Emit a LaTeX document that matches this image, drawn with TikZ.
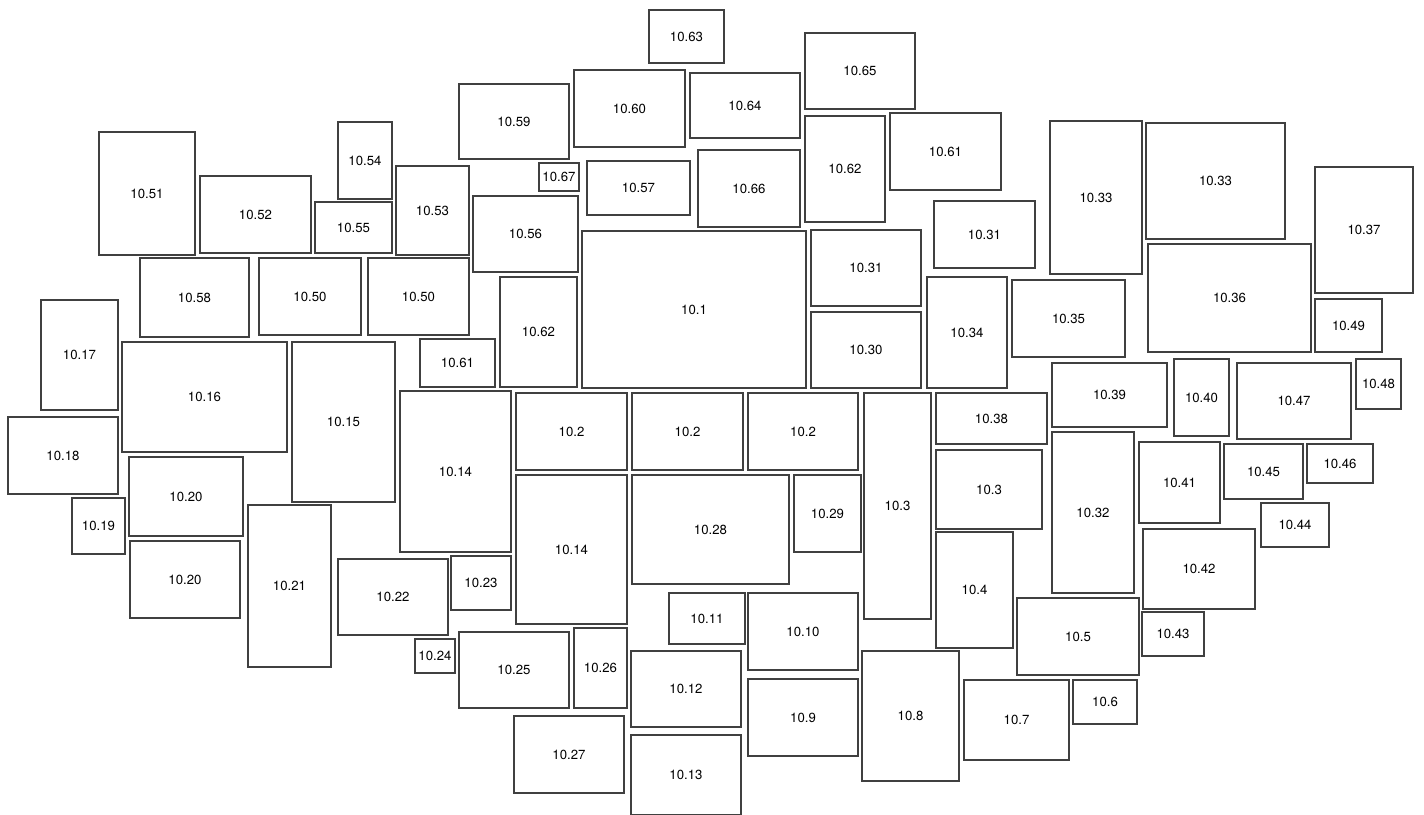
\documentclass[tikz,border=0pt]{standalone}
\usepackage{fontspec}
\setmainfont{TeX Gyre Heros}
\begin{document}
\begin{tikzpicture}[x=0.5pt,y=-0.5pt,
  bx/.style={draw=black!75,line width=0.6pt,inner sep=0pt,outer sep=0pt,
    font=\fontsize{6.6}{7}\selectfont,text=black}]
\useasboundingbox (0,0) rectangle (1424,814);
\newcommand\bx[6]{\node[bx,minimum width={(#4-#2)*0.5pt},minimum height={(#5-#3)*0.5pt}] (#1) at ({(#2+#4)/2},{(#3+#5)/2}) {#6};}
\bx{nA}{649}{10}{724}{63}{10.63}
\bx{nB}{805}{33}{915}{109}{10.65}
\bx{nC}{574}{70}{685}{147}{10.60}
\bx{nD}{690}{73}{800}{138}{10.64}
\bx{nE}{459}{84}{569}{159}{10.59}
\bx{nF}{805}{116}{885}{222}{10.62}
\bx{nG}{890}{113}{1001}{190}{10.61}
\bx{nH}{539}{163}{579}{191}{10.67}
\bx{nI}{587}{161}{690}{215}{10.57}
\bx{nJ}{698}{150}{800}{227}{10.66}
\bx{nK}{473}{196}{578}{272}{10.56}
\bx{nL}{99}{132}{195}{255}{10.51}
\bx{nM}{200}{176}{311}{253}{10.52}
\bx{nN}{338}{122}{392}{199}{10.54}
\bx{nO}{315}{202}{392}{253}{10.55}
\bx{nP}{396}{166}{469}{255}{10.53}
\bx{nQ}{140}{258}{249}{337}{10.58}
\bx{nR}{259}{258}{361}{335}{10.50}
\bx{nS}{368}{258}{469}{335}{10.50}
\bx{nT}{41}{300}{118}{410}{10.17}
\bx{nU}{122}{342}{287}{452}{10.16}
\bx{nV}{292}{342}{395}{502}{10.15}
\bx{nW}{420}{339}{495}{387}{10.61}
\bx{nX}{500}{277}{577}{387}{10.62}
\bx{nY}{582}{231}{806}{388}{10.1}
\bx{nZ}{811}{230}{921}{306}{10.31}
\bx{oA}{811}{312}{921}{388}{10.30}
\bx{oB}{934}{201}{1035}{268}{10.31}
\bx{oC}{927}{277}{1007}{388}{10.34}
\bx{oD}{1050}{121}{1142}{274}{10.33}
\bx{oE}{1146}{123}{1285}{239}{10.33}
\bx{oF}{1315}{167}{1413}{293}{10.37}
\bx{oG}{1148}{244}{1311}{352}{10.36}
\bx{oH}{1315}{299}{1382}{352}{10.49}
\bx{oI}{1012}{280}{1125}{357}{10.35}
\bx{oJ}{1052}{363}{1167}{427}{10.39}
\bx{oK}{1174}{359}{1229}{436}{10.40}
\bx{oL}{1237}{363}{1351}{439}{10.47}
\bx{oM}{1356}{359}{1401}{409}{10.48}
\bx{oN}{936}{393}{1047}{444}{10.38}
\bx{oO}{8}{417}{118}{494}{10.18}
\bx{oP}{72}{498}{125}{554}{10.19}
\bx{oQ}{129}{457}{243}{536}{10.20}
\bx{oR}{130}{541}{240}{618}{10.20}
\bx{oS}{248}{505}{331}{667}{10.21}
\bx{oT}{338}{559}{448}{635}{10.22}
\bx{oU}{415}{639}{455}{673}{10.24}
\bx{oV}{400}{391}{511}{552}{10.14}
\bx{oW}{451}{556}{511}{610}{10.23}
\bx{oX}{459}{632}{569}{708}{10.25}
\bx{pA}{516}{393}{627}{470}{10.2}
\bx{pB}{632}{393}{743}{470}{10.2}
\bx{pC}{748}{393}{858}{470}{10.2}
\bx{pD}{864}{393}{931}{619}{10.3}
\bx{pE}{516}{475}{627}{624}{10.14}
\bx{pF}{632}{475}{789}{584}{10.28}
\bx{pG}{794}{475}{861}{552}{10.29}
\bx{pH}{669}{593}{745}{644}{10.11}
\bx{pI}{748}{593}{858}{670}{10.10}
\bx{pJ}{574}{628}{627}{708}{10.26}
\bx{pK}{631}{651}{741}{727}{10.12}
\bx{pL}{748}{679}{858}{756}{10.9}
\bx{pM}{862}{651}{959}{781}{10.8}
\bx{pN}{514}{716}{624}{793}{10.27}
\bx{pO}{631}{735}{741}{815}{10.13}
\bx{pP}{936}{450}{1042}{529}{10.3}
\bx{pQ}{936}{532}{1013}{648}{10.4}
\bx{pR}{1052}{432}{1134}{593}{10.32}
\bx{pS}{1139}{442}{1220}{523}{10.41}
\bx{pT}{1224}{444}{1303}{499}{10.45}
\bx{pU}{1307}{444}{1373}{483}{10.46}
\bx{pV}{1261}{503}{1329}{547}{10.44}
\bx{pW}{1143}{529}{1255}{609}{10.42}
\bx{pX}{1142}{612}{1204}{656}{10.43}
\bx{qA}{1017}{598}{1139}{675}{10.5}
\bx{qB}{964}{680}{1069}{760}{10.7}
\bx{qC}{1073}{680}{1137}{724}{10.6}
\end{tikzpicture}
\end{document}
